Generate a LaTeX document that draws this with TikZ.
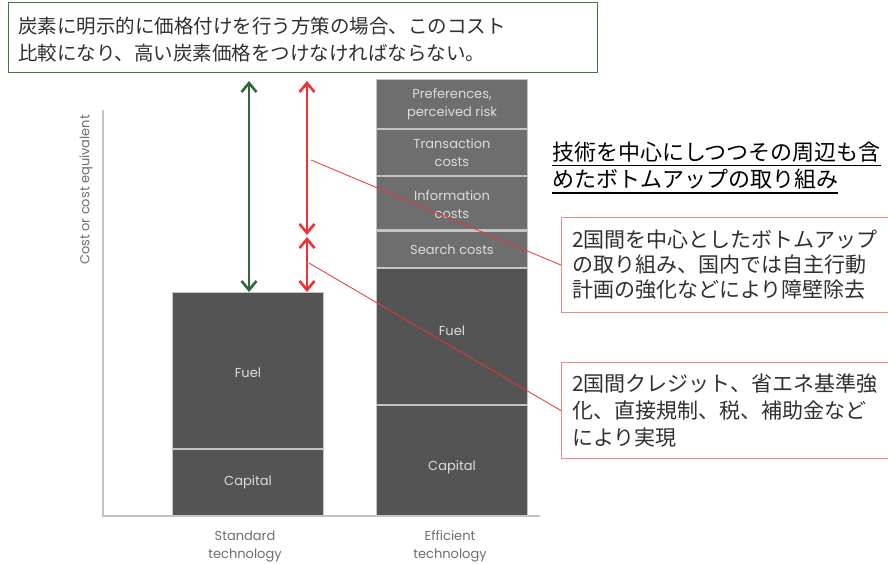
\documentclass[tikz,border=0pt]{standalone}
\usepackage{fontspec}
\newfontfamily\jp{Noto Sans CJK JP}
\newfontfamily\geo{Poppins}
\usetikzlibrary{arrows.meta}
\definecolor{topgreen}{HTML}{3C7A45}
\definecolor{arrgreen}{HTML}{2E6B38}
\definecolor{arrred}{HTML}{F03232}
\definecolor{boxred}{HTML}{F08A8A}
\definecolor{dark}{HTML}{545454}
\definecolor{mid}{HTML}{6E6E6E}
\definecolor{sep}{HTML}{C4C4C4}
\definecolor{bartext}{HTML}{DCDCDC}
\definecolor{labgray}{HTML}{6E6E6E}
\definecolor{txt}{HTML}{303030}
\tikzset{
  seg/.style={anchor=north west, inner sep=0, minimum width=150, draw=none},
  bartxt/.style={text=bartext, font=\geo\fontsize{13}{18}\selectfont, align=center},
  axlab/.style={text=labgray, font=\geo\fontsize{13}{18}\selectfont, align=center},
  jptop/.style={anchor=base west, inner sep=0, text=txt, font=\jp\fontsize{19.5}{19.5}\selectfont},
  jpbox/.style={anchor=base west, inner sep=0, text=txt, font=\jp\fontsize{21}{21}\selectfont},
  jphead/.style={anchor=base west, inner sep=0, text=black, font=\jp\fontsize{22}{22}\selectfont},
  dbl/.style={line width=2.6, arrows={Straight Barb[length=9pt,width=15pt]-Straight Barb[length=9pt,width=15pt]}},
  leader/.style={arrred, line width=0.8},
  callout/.style={draw=boxred, line width=1.2, anchor=north west, inner sep=0}
}
\begin{document}
\begin{tikzpicture}[x=1pt,y=-1pt]
\useasboundingbox[fill=white] (0,0) rectangle (888,564);

% top explanation box
\node[draw=topgreen, line width=1, anchor=north west, inner sep=0, minimum width=589, minimum height=70] (topbox) at (8,2) {};
\node[jptop] (t1) at (18,34) {炭素に明示的に価格付けを行う方策の場合、このコスト};
\node[jptop] (t2) at (18,61) {比較になり、高い炭素価格をつけなければならない。};

% axes
\draw[sep, line width=1.6] (103,110) -- (103,516) -- (540,516);
\node[axlab, rotate=90] (ylab) at (86,190) {Cost or cost equivalent};

% standard bar
\fill[sep] (172,292) rectangle (324,516);
\node[seg, fill=dark, minimum height=155] (sfuel) at (173,293) {};
\node[seg, fill=dark, minimum height=65] (scap) at (173,450) {};
\node[bartxt] (sfuelt) at (248,373) {Fuel};
\node[bartxt] (scapt) at (248,482) {Capital};

% efficient bar
\fill[sep] (376,79) rectangle (528,516);
\node[seg, fill=mid, minimum height=48] (pref) at (377,80) {};
\node[seg, fill=mid, minimum height=45] (trans) at (377,130) {};
\node[seg, fill=mid, minimum height=52] (info) at (377,177) {};
\node[seg, fill=mid, minimum height=35] (search) at (377,232) {};
\node[seg, fill=dark, minimum height=135] (efuel) at (377,269) {};
\node[seg, fill=dark, minimum height=109] (ecap) at (377,406) {};
\node[bartxt] (preft) at (452,104) {Preferences,\\perceived risk};
\node[bartxt] (transt) at (452,153) {Transaction\\costs};
\node[bartxt] (infot) at (452,205) {Information\\costs};
\node[bartxt] (searcht) at (452,250) {Search costs};
\node[bartxt] (efuelt) at (452,331) {Fuel};
\node[bartxt] (ecapt) at (452,467) {Capital};

% bottom labels
\node[axlab] (stdlab) at (245,546) {Standard\\technology};
\node[axlab] (efflab) at (450,546) {Efficient\\technology};

% arrows
\coordinate (g1) at (249,81);
\coordinate (g2) at (249,292);
\coordinate (r1) at (307,81);
\coordinate (r2) at (307,235);
\coordinate (r3) at (307,237);
\coordinate (r4) at (307,292);
\draw[dbl, arrgreen] (g1) -- (g2);
\draw[dbl, arrred] (r1) -- (r2);
\draw[dbl, arrred] (r3) -- (r4);

% heading
\node[jphead] (h1) at (552,161) {技術を中心にしつつその周辺も含};
\node[jphead] (h2) at (552,188) {めたボトムアップの取り組み};
\draw[black, line width=1] ([yshift=-5]h1.base west) -- ([yshift=-5]h1.base east);
\draw[black, line width=1] ([yshift=-5]h2.base west) -- ([yshift=-5]h2.base east);

% callout boxes
\node[callout, minimum width=327, minimum height=95] (c2) at (561,217) {};
\node[jpbox] (c2a) at (572,247) {2国間を中心としたボトムアップ};
\node[jpbox] (c2b) at (572,272) {の取り組み、国内では自主行動};
\node[jpbox] (c2c) at (572,297) {計画の強化などにより障壁除去};

\node[callout, minimum width=327, minimum height=96] (c3) at (561,362) {};
\node[jpbox] (c3a) at (572,391) {2国間クレジット、省エネ基準強};
\node[jpbox] (c3b) at (572,418) {化、直接規制、税、補助金など};
\node[jpbox] (c3c) at (572,445) {により実現};

% leaders
\coordinate (l1) at (311,160);
\coordinate (l2) at (309,263);
\draw[leader] (l1) -- (c2.west);
\draw[leader] (l2) -- (c3.west);
\end{tikzpicture}
\end{document}
